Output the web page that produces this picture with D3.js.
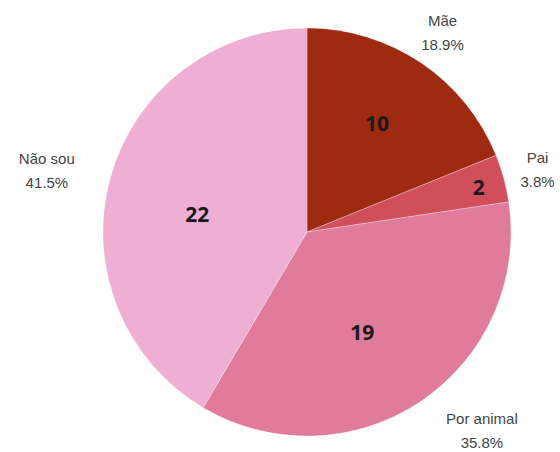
<!DOCTYPE html>
<html>
<head>
<meta charset="utf-8">
<script src="https://cdn.jsdelivr.net/npm/d3@7"></script>
<style>
  body { margin: 0; background: #fff; }
</style>
</head>
<body>
<div id="chart"></div>
<script>
// data
const categories = ['Mãe', 'Pai', 'Por animal', 'Não sou'];
const counts = [10, 2, 19, 22];
const percentLabels = ['18.9%', '3.8%', '35.8%', '41.5%'];
const colors = ['#9e2a12', '#d04f5b', '#e07b9b', '#efaed4'];

const width = 560, height = 452;
const cx = 307, cy = 232, radius = 204;

// label placement: radius fraction + angle tweak (degrees) from slice middle
const innerR = [0.635, 0.87, 0.56, 0.545];
const innerTweak = [-1.3, 0.6, 5, -6];
const outerR = [1.18, 1.17, 1.3, 1.31];
const outerTweak = [0.3, 0.3, -7.3, -2.1];

const svg = d3.select('#chart').append('svg')
  .attr('width', width)
  .attr('height', height);

const g = svg.append('g')
  .attr('transform', `translate(${cx},${cy})`);

const pie = d3.pie().sort(null).value(d => d);
const arcs = pie(counts);

const arc = d3.arc().innerRadius(0).outerRadius(radius);

// position from slice middle angle, radius fraction and angle tweak
function place(d, rFrac, tweakDeg) {
  const a = (d.startAngle + d.endAngle) / 2 + tweakDeg * Math.PI / 180;
  return d3.pointRadial(a, radius * rFrac);
}

g.selectAll('path.slice')
  .data(arcs)
  .enter()
  .append('path')
  .attr('class', 'slice')
  .attr('d', arc)
  .attr('fill', (d, i) => colors[i])
  .attr('stroke', 'rgba(255,255,255,0.35)')
  .attr('stroke-width', 0.8);

// counts inside slices
g.selectAll('text.count')
  .data(arcs)
  .enter()
  .append('text')
  .attr('class', 'count')
  .attr('transform', (d, i) => {
    const p = place(d, innerR[i], innerTweak[i]);
    return `translate(${p[0]},${p[1]})`;
  })
  .attr('text-anchor', 'middle')
  .attr('dy', '0.36em')
  .style('font-family', '"Open Sans", "DejaVu Sans", sans-serif')
  .style('font-weight', 'bold')
  .style('font-size', '21px')
  .style('fill', '#1a1a1a')
  .text((d, i) => counts[i]);

// outer category + percent labels
const outer = g.selectAll('g.outer')
  .data(arcs)
  .enter()
  .append('g')
  .attr('class', 'outer')
  .attr('transform', (d, i) => {
    const p = place(d, outerR[i], outerTweak[i]);
    return `translate(${p[0]},${p[1]})`;
  });

outer.append('text')
  .attr('text-anchor', 'middle')
  .attr('y', -7)
  .style('font-family', '"Liberation Sans", Arial, sans-serif')
  .style('font-size', '15px')
  .style('fill', '#444')
  .text((d, i) => categories[i]);

outer.append('text')
  .attr('text-anchor', 'middle')
  .attr('y', 17)
  .style('font-family', '"Liberation Sans", Arial, sans-serif')
  .style('font-size', '15px')
  .style('fill', '#444')
  .text((d, i) => percentLabels[i]);
</script>
</body>
</html>
